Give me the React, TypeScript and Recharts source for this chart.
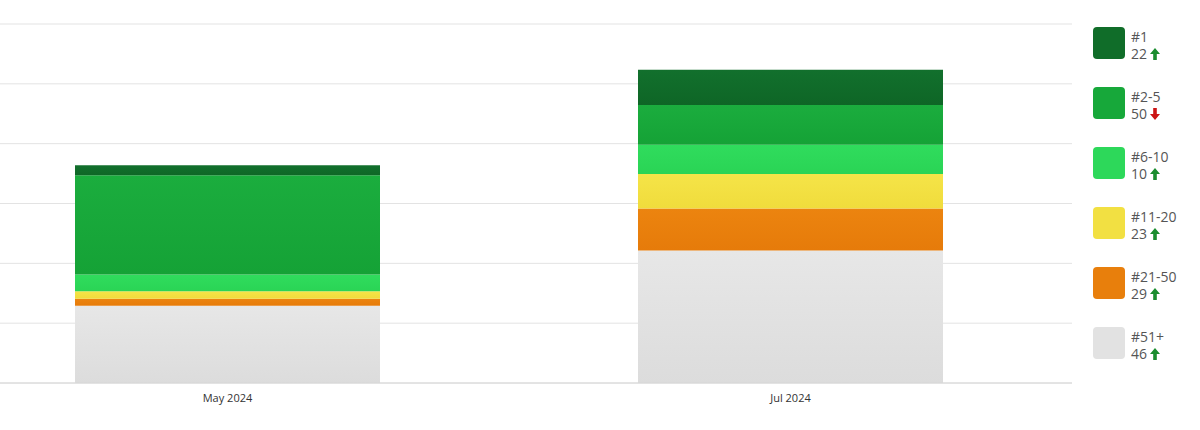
import React from "react";
import { BarChart, Bar, XAxis, YAxis, CartesianGrid } from "recharts";

const categories = ["May 2024", "Jul 2024"];
const rank1 = [8.4, 29.5];
const rank2to5 = [83, 33.2];
const rank6to10 = [14, 24.5];
const rank11to20 = [6.1, 28.7];
const rank21to50 = [5.9, 35.1];
const rank51plus = [64.6, 110.8];
const yTicks = [0, 50, 100, 150, 200, 250, 300];

const legendLabels = ["#1", "#2-5", "#6-10", "#11-20", "#21-50", "#51+"];
const legendValues = [22, 50, 10, 23, 29, 46];
const legendUp = [true, false, true, true, true, true];

const series = [
  { key: "r51", name: "#51+", top: "#e7e7e7", bottom: "#dcdcdc" },
  { key: "r21", name: "#21-50", top: "#ec840f", bottom: "#e67b0a" },
  { key: "r11", name: "#11-20", top: "#f5e448", bottom: "#f0dc3c" },
  { key: "r6", name: "#6-10", top: "#30dc5d", bottom: "#2ad455" },
  { key: "r2", name: "#2-5", top: "#1bad3e", bottom: "#15a236" },
  { key: "r1", name: "#1", top: "#12702d", bottom: "#0e6626" },
];

const data = categories.map((c, i) => ({
  name: c,
  r1: rank1[i],
  r2: rank2to5[i],
  r6: rank6to10[i],
  r11: rank11to20[i],
  r21: rank21to50[i],
  r51: rank51plus[i],
}));

const legendColors = ["#106d29", "#17a83a", "#2dd85a", "#f2e042", "#e87f0c", "#e2e2e2"];

const Arrow = ({ up }: { up: boolean }) => (
  <svg width="10" height="12" viewBox="0 0 10 12" style={{ marginLeft: 3, verticalAlign: "-1px" }}>
    {up ? (
      <path d="M5 0 L10 6 L6.8 6 L6.8 12 L3.2 12 L3.2 6 L0 6 Z" fill="#1a8c2e" />
    ) : (
      <path d="M5 12 L10 6 L6.8 6 L6.8 0 L3.2 0 L3.2 6 L0 6 Z" fill="#cc1414" />
    )}
  </svg>
);

export default function App() {
  return (
    <div style={{ position: "absolute", left: 0, top: 0, width: 1200, height: 430, background: "#fff", overflow: "hidden" }}>
      <div style={{ position: "absolute", left: -54, top: 0 }}>
        <BarChart width={1126} height={430} data={data} margin={{ top: 24, right: 0, bottom: 17, left: 0 }} barSize={305}>
          <defs>
            {series.map((s) => (
              <linearGradient key={s.key} id={"g-" + s.key} x1="0" y1="0" x2="0" y2="1">
                <stop offset="0%" stopColor={s.top} />
                <stop offset="100%" stopColor={s.bottom} />
              </linearGradient>
            ))}
          </defs>
          <CartesianGrid vertical={false} stroke="#e3e3e3" />
          <XAxis
            dataKey="name"
            height={30}
            tickLine={false}
            tickMargin={5}
            stroke="#d6d6d6"
            tick={{ fill: "#333", fontSize: 11, fontFamily: "Open Sans" }}
          />
          <YAxis hide domain={[0, 300]} ticks={yTicks} />
          {series.map((s) => (
            <Bar key={s.key} dataKey={s.key} name={s.name} stackId="a" fill={`url(#g-${s.key})`} isAnimationActive={false} />
          ))}
        </BarChart>
      </div>
      <div style={{ position: "absolute", left: 1093, top: 27, fontFamily: "Open Sans", color: "#555", fontSize: 14 }}>
        {legendLabels.map((l, i) => (
          <div key={l} style={{ position: "absolute", top: i * 60, left: 0, width: 100, height: 36 }}>
            <div style={{ position: "absolute", left: 0, top: 0, width: 32, height: 32, borderRadius: 4, background: legendColors[i] }} />
            <div style={{ position: "absolute", left: 38, top: 1, lineHeight: "17px", whiteSpace: "nowrap" }}>
              <div style={{ height: 17 }}>{l}</div>
              <div style={{ height: 17 }}>
                {legendValues[i]}
                <Arrow up={legendUp[i]} />
              </div>
            </div>
          </div>
        ))}
      </div>
    </div>
  );
}
